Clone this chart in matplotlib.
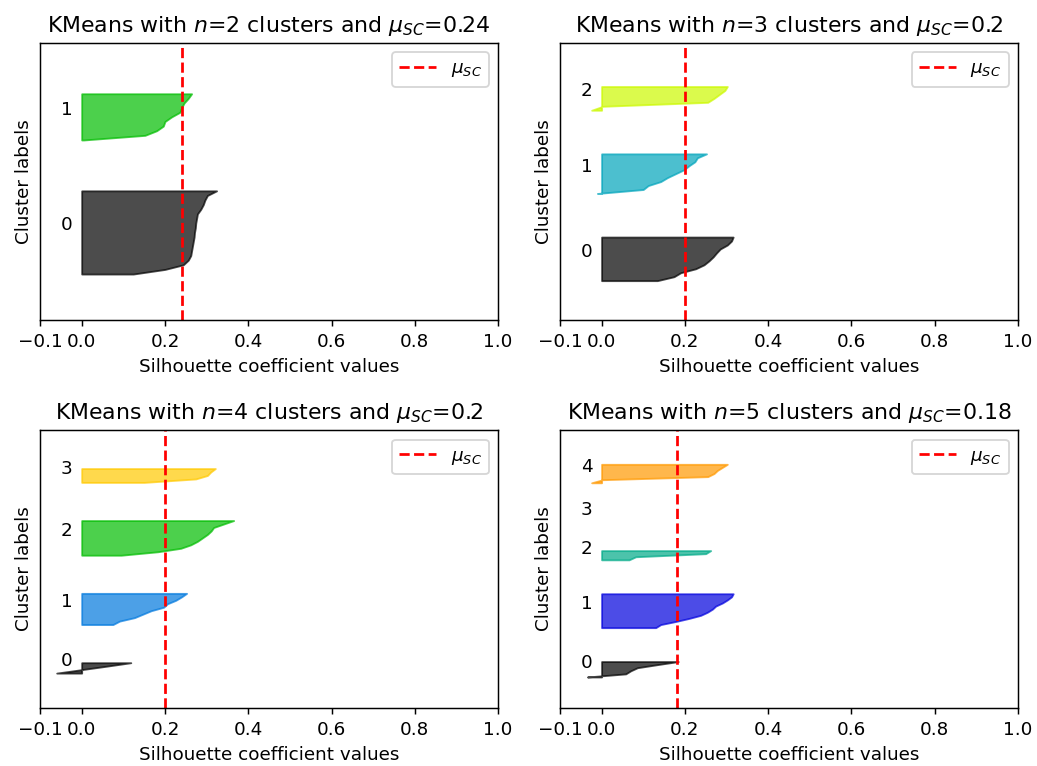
import numpy as np
import matplotlib
matplotlib.use('Agg')
import matplotlib.cm as cm
from matplotlib import pyplot as plt

# number of clusters in each panel and the average silhouette score shown in the title
n_clusters_list = [2, 3, 4, 5]
silhouette_avg = [0.24, 0.2, 0.2, 0.18]

# sorted silhouette values of each cluster
sil_n2 = [
    [0.124, 0.200, 0.244, 0.256, 0.262, 0.264, 0.266, 0.268, 0.270, 0.271,
     0.273, 0.274, 0.276, 0.278, 0.286, 0.292, 0.296, 0.302, 0.324],
    [0.005, 0.152, 0.180, 0.196, 0.200, 0.216, 0.236, 0.240, 0.246, 0.256, 0.264],
]
sil_n3 = [
    [0.134, 0.174, 0.190, 0.226, 0.246, 0.258, 0.268, 0.276, 0.285, 0.302, 0.312, 0.316],
    [-0.010, 0.100, 0.112, 0.142, 0.158, 0.178, 0.198, 0.210, 0.224, 0.230, 0.252],
    [-0.024, 0.003, 0.255, 0.270, 0.283, 0.296, 0.302],
]
sil_n4 = [
    [-0.060, 0.000, 0.060, 0.118],
    [0.075, 0.091, 0.127, 0.147, 0.167, 0.197, 0.206, 0.226, 0.240, 0.252],
    [0.095, 0.183, 0.238, 0.262, 0.278, 0.290, 0.302, 0.311, 0.317, 0.341, 0.365],
    [0.150, 0.274, 0.302, 0.310, 0.321],
]
sil_n5 = [
    [-0.034, 0.058, 0.070, 0.086, 0.134, 0.184],
    [0.130, 0.142, 0.178, 0.210, 0.238, 0.254, 0.266, 0.274, 0.290, 0.302, 0.312, 0.316],
    [0.066, 0.082, 0.250, 0.262],
    [0.0],
    [-0.024, 0.003, 0.255, 0.270, 0.278, 0.290, 0.302],
]
all_sil = [sil_n2, sil_n3, sil_n4, sil_n5]

fig, axes = plt.subplots(2, 2, figsize=(1037 / 132, 766 / 132), dpi=132)
plt.subplots_adjust(left=0.0386, right=0.9817, top=0.944, bottom=0.076,
                    wspace=0.135, hspace=0.397)

for ax, n_clusters, avg, clusters in zip(axes.flat, n_clusters_list, silhouette_avg, all_sil):
    n_samples = sum(len(c) for c in clusters)
    y_lower = 10
    for i, vals in enumerate(clusters):
        vals = np.sort(np.array(vals))
        size = vals.shape[0]
        y_upper = y_lower + size
        color = cm.nipy_spectral(float(i) / n_clusters)
        ax.fill_betweenx(np.arange(y_lower, y_upper), 0, vals,
                         facecolor=color, edgecolor=color, alpha=0.7)
        ax.text(-0.05, y_lower + 0.5 * size, str(i))
        y_lower = y_upper + 10   # gap between clusters

    ax.axvline(x=avg, color='red', linestyle='--', label=r'$\mu_{SC}$')
    ax.set_xlim([-0.1, 1])
    ax.set_ylim([0, n_samples + (n_clusters + 1) * 10])
    ax.set_yticks([])
    ax.set_xticks([-0.1, 0, 0.2, 0.4, 0.6, 0.8, 1])
    ax.set_xlabel('Silhouette coefficient values')
    ax.set_ylabel('Cluster labels')
    ax.set_title(r'KMeans with $n$=%d clusters and $\mu_{SC}$=%s' % (n_clusters, avg))
    ax.legend(loc='upper right')

plt.savefig('out.png', dpi=132)
